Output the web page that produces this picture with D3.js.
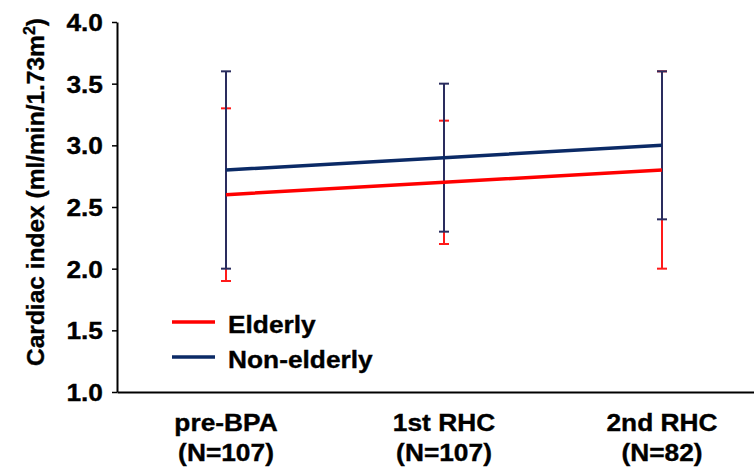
<!DOCTYPE html>
<html><head><meta charset="utf-8">
<script src="https://cdn.jsdelivr.net/npm/d3@7"></script>
<style>body{margin:0;background:#fff}svg{display:block}text{font-family:"Liberation Sans",Arial,sans-serif;font-weight:bold;fill:#000;stroke:#000;stroke-width:0.35px}</style>
</head><body><svg id="c" width="754" height="469"></svg>
<script>
const categories = ["pre-BPA", "1st RHC", "2nd RHC"];
const sampleSizes = ["(N=107)", "(N=107)", "(N=82)"];
const elderlyMean = [2.6, 2.7, 2.8];
const elderlyLow = [1.9, 2.2, 2.0];
const elderlyHigh = [3.3, 3.2, 3.6];
const nonElderlyMean = [2.8, 2.9, 3.0];
const nonElderlyLow = [2.0, 2.3, 2.4];
const nonElderlyHigh = [3.6, 3.5, 3.6];
const yTicks = [1.0, 1.5, 2.0, 2.5, 3.0, 3.5, 4.0];

const svg = d3.select("#c");
const mLeft = 117, mTop = 22, mBottom = 392;
const sx = 1.12, fs = "23.5px";
const x = d3.scaleBand().domain(categories).range([mLeft, mLeft + 654]).padding(0);
const y = d3.scaleLinear().domain([1, 4]).range([mBottom, mTop]);
const cx = c => x(c) + x.bandwidth() / 2;

const series = [
  {name: "Elderly", color: "#ff0000", bar: "#ff1a1a", mean: elderlyMean, lo: elderlyLow, hi: elderlyHigh},
  {name: "Non-elderly", color: "#0b2a66", bar: "#2a2c5e", mean: nonElderlyMean, lo: nonElderlyLow, hi: nonElderlyHigh}
];

function stretchedText(px, py, str, anchor) {
  return svg.append("text").attr("transform", `translate(${px},${py}) scale(${sx},1)`)
    .attr("text-anchor", anchor).style("font-size", fs).text(str);
}

// y axis
const ya = svg.append("g").attr("transform", `translate(${mLeft},0)`)
  .call(d3.axisLeft(y).tickValues(yTicks).tickFormat(d3.format(".1f")).tickSize(5).tickSizeOuter(0));
ya.select(".domain").attr("stroke", "#000").attr("stroke-width", 2);
ya.selectAll(".tick line").attr("stroke", "#000").attr("stroke-width", 1.5);
ya.selectAll(".tick text").attr("x", -14 / sx).attr("dy", "0.36em").attr("transform", `scale(${sx},1)`)
  .style("font-size", fs).style("font-family", '"Liberation Sans",Arial,sans-serif')
  .attr("font-weight", "bold").attr("fill", "#000");

// x axis
const xa = svg.append("g").attr("transform", `translate(0,${mBottom})`)
  .call(d3.axisBottom(x).tickSize(0).tickSizeOuter(0).tickFormat(""));
xa.select(".domain").attr("stroke", "#000").attr("stroke-width", 2);
categories.forEach((c, i) => {
  stretchedText(cx(c), 431, c, "middle");
  stretchedText(cx(c), 461, sampleSizes[i], "middle");
});

// y title
svg.append("text").attr("transform", `translate(44,192) rotate(-90)`).attr("text-anchor", "middle")
  .style("font-size", "24.5px")
  .html('Cardiac index (ml/min/1.73m<tspan dy="-9" style="font-size:16px">2</tspan><tspan dy="9">)</tspan>');

// error bars
series.forEach(s => {
  const g = svg.append("g");
  categories.forEach((c, i) => {
    const xc = cx(c);
    g.append("line").attr("x1", xc).attr("x2", xc).attr("y1", y(s.lo[i])).attr("y2", y(s.hi[i]))
      .attr("stroke", s.bar).attr("stroke-width", 2);
    [s.lo[i], s.hi[i]].forEach(v => g.append("line").attr("x1", xc - 5).attr("x2", xc + 5)
      .attr("y1", y(v)).attr("y2", y(v)).attr("stroke", s.bar).attr("stroke-width", 2));
  });
});

// mean lines
const line = d3.line().x((d, i) => cx(categories[i])).y(d => y(d));
series.forEach(s => {
  svg.append("path").datum(s.mean).attr("d", line).attr("fill", "none")
    .attr("stroke", s.color).attr("stroke-width", 3.5);
});

// legend
series.forEach((s, i) => {
  const ly = 322 + i * 35;
  svg.append("line").attr("x1", 172).attr("x2", 215).attr("y1", ly).attr("y2", ly)
    .attr("stroke", s.color).attr("stroke-width", 3.5);
  stretchedText(228, ly + 11, s.name, "start");
});
</script></body></html>
